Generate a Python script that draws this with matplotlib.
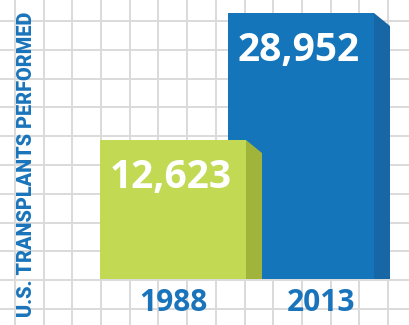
import matplotlib

matplotlib.use("Agg")
import matplotlib.pyplot as plt  # noqa: E402
from matplotlib.patches import Polygon  # noqa: E402
from matplotlib.transforms import blended_transform_factory  # noqa: E402

# data
years = ["1988", "2013"]
transplants = [12623, 28952]
value_labels = ["12,623", "28,952"]

front_colors = ["#c1d953", "#1475ba"]
side_colors = ["#a0b43c", "#1767a6"]
text_blue = "#1a74bb"

W, H = 410, 325
BASE = -5250          # where the bars start (picture is not zero-based)
PER_PX = 128.6        # data units per pixel on the y axis
BAR_W = 146 / 128     # bar width in category units
DEPTH_X = 16 / 128    # side face depth, category units
DEPTH_Y = 13 * PER_PX

fig = plt.figure(figsize=(W / 100, H / 100), dpi=100)
fig.patch.set_facecolor("white")

# background grid in pixel space
bg = fig.add_axes([0, 0, 1, 1])
bg.set_xlim(0, W)
bg.set_ylim(H, 0)
bg.axis("off")
gx = 15.0
while gx < W:
    bg.axvline(gx, color="#dadada", lw=1.4, zorder=0)
    gx += 28.7
gy = 21.0
while gy < H:
    bg.axhline(gy, color="#dadada", lw=1.4, zorder=0)
    gy += 28.8

ax = fig.add_axes([0, 0, 1, 1])
ax.patch.set_alpha(0)
ax.set_xlim(-173 / 128, (W - 173) / 128)
ax.set_ylim(BASE - 46 * PER_PX, BASE + 279 * PER_PX)
ax.axis("off")

# blue first so the green block sits in front of it
order = [1, 0]
for i in order:
    val = transplants[i]
    bars = ax.bar(i, val - BASE, bottom=BASE, width=BAR_W,
                  color=front_colors[i], zorder=2 + (1 - i))
    rect = bars[0]
    right = rect.get_x() + rect.get_width()
    side = Polygon([(right, val), (right + DEPTH_X, val - DEPTH_Y),
                    (right + DEPTH_X, BASE), (right, BASE)],
                   closed=True, facecolor=side_colors[i], edgecolor="none",
                   zorder=2 + (1 - i))
    ax.add_patch(side)
    ax.annotate(value_labels[i], xy=(i, val), xytext=(-2, -48),
                textcoords="offset pixels", ha="center", va="baseline",
                color="white", fontsize=28, fontweight="bold",
                family="Open Sans", zorder=5)

# year labels under the bars
label_x = [0, 1.156]
trans = blended_transform_factory(ax.transData, fig.transFigure)
for x, year in zip(label_x, years):
    ax.text(x, 22 / H, year, transform=trans, ha="center", va="center",
            color=text_blue, fontsize=21.5, fontweight="bold",
            family="Open Sans")

fig.text(27 / W, 1 - 164 / H, "U.S. TRANSPLANTS PERFORMED", rotation=90,
         ha="center", va="center", color=text_blue, fontsize=14.3,
         fontweight="black", family="Roboto")

fig.savefig("out.png", dpi=100)
